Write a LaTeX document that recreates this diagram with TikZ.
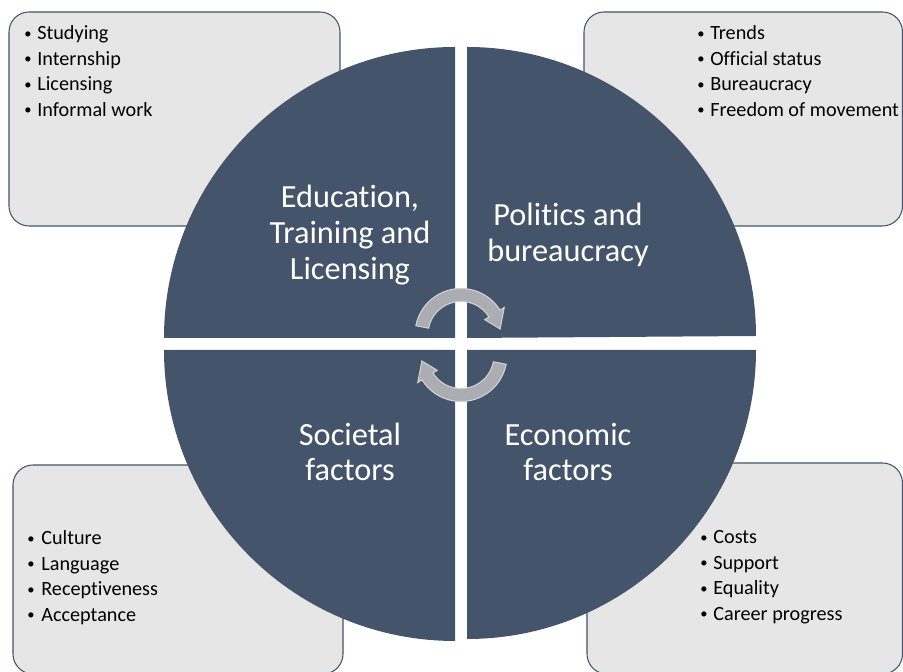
\documentclass[tikz,border=0pt]{standalone}
\usepackage{fontspec}
\setmainfont{Carlito}[Ligatures=NoCommon]
\definecolor{quadblue}{HTML}{44546A}
\definecolor{boxgray}{HTML}{E7E6E6}
\definecolor{arrowgray}{RGB}{171,173,178}
\definecolor{arrowedge}{RGB}{208,210,213}
\newcommand{\bul}{\raisebox{0.08em}{\scalebox{0.72}{\textbullet}}}

\begin{document}
\begin{tikzpicture}[x=0.02cm, y=0.02cm,
    infobox/.style={draw=quadblue, fill=boxgray, line width=0.6pt, rounded corners=0.4cm},
    quad/.style={fill=quadblue},
    title/.style={text=white, align=center, font=\fontsize{18.4}{20.3}\selectfont},
    item/.style={anchor=base west, inner sep=0pt, font=\fontsize{11.5}{14}\selectfont},
    cyc/.style={fill=arrowgray, draw=arrowedge, line width=0.6pt}]
    \useasboundingbox (0,0) rectangle (903,672);

    % boxes behind the circle
    \draw[infobox] (9,446) rectangle (340,660);
    \draw[infobox] (584,446) rectangle (902.5,660);
    \draw[infobox] (13,-2) rectangle (343,207);
    \draw[infobox] (587,-2) rectangle (902.5,209);

    % the four quadrants
    \fill[quad] (455,334) -- (164,334) arc[start angle=180, end angle=90, radius=291] -- cycle;
    \fill[quad] (467,334) -- (467,625) arc[start angle=90, end angle=0, radius=289] -- cycle;
    \fill[quad] (455,322) -- (455,31) arc[start angle=270, end angle=180, radius=291] -- cycle;
    \fill[quad] (467,322) -- (756,322) arc[start angle=0, end angle=-90, radius=289] -- cycle;

    \node[title] (edu) at (350,437) {Education,\\Training and\\Licensing};
    \node[title] (pol) at (568,437) {Politics and\\bureaucracy};
    \node[title] (soc) at (350,220) {Societal\\factors};
    \node[title] (eco) at (568,220) {Economic\\factors};

    % bullet lists
    \foreach \t [count=\i] in {Studying, Internship, Licensing, Informal work}
        \node[item] (edu\i) at (24, 657.5-25.5*\i) {\makebox[0.26cm][l]{\bul}\t};
    \foreach \t [count=\i] in {Trends, Official status, Bureaucracy, Freedom of movement}
        \node[item] (pol\i) at (697, 657.5-25.5*\i) {\makebox[0.26cm][l]{\bul}\t};
    \foreach \t [count=\i] in {Culture, Language, Receptiveness, Acceptance}
        \node[item] (soc\i) at (27, 152.5-25.5*\i) {\makebox[0.28cm][l]{\bul}\t};
    \foreach \t [count=\i] in {Costs, Support, Equality, Career progress}
        \node[item] (eco\i) at (700, 153.5-25.5*\i) {\makebox[0.26cm][l]{\bul}\t};

    % cycle arrows in the middle
    \foreach \cy/\rot in {337.5/0, 316.5/180}
        \filldraw[cyc, shift={(461,\cy)}, rotate=\rot] (169:46) arc[start angle=169, end angle=32, radius=46]
            -- (32:51) -- (8:39.5) -- (32:28) -- (32:33) arc[start angle=32, end angle=169, radius=33] -- cycle;
\end{tikzpicture}
\end{document}
